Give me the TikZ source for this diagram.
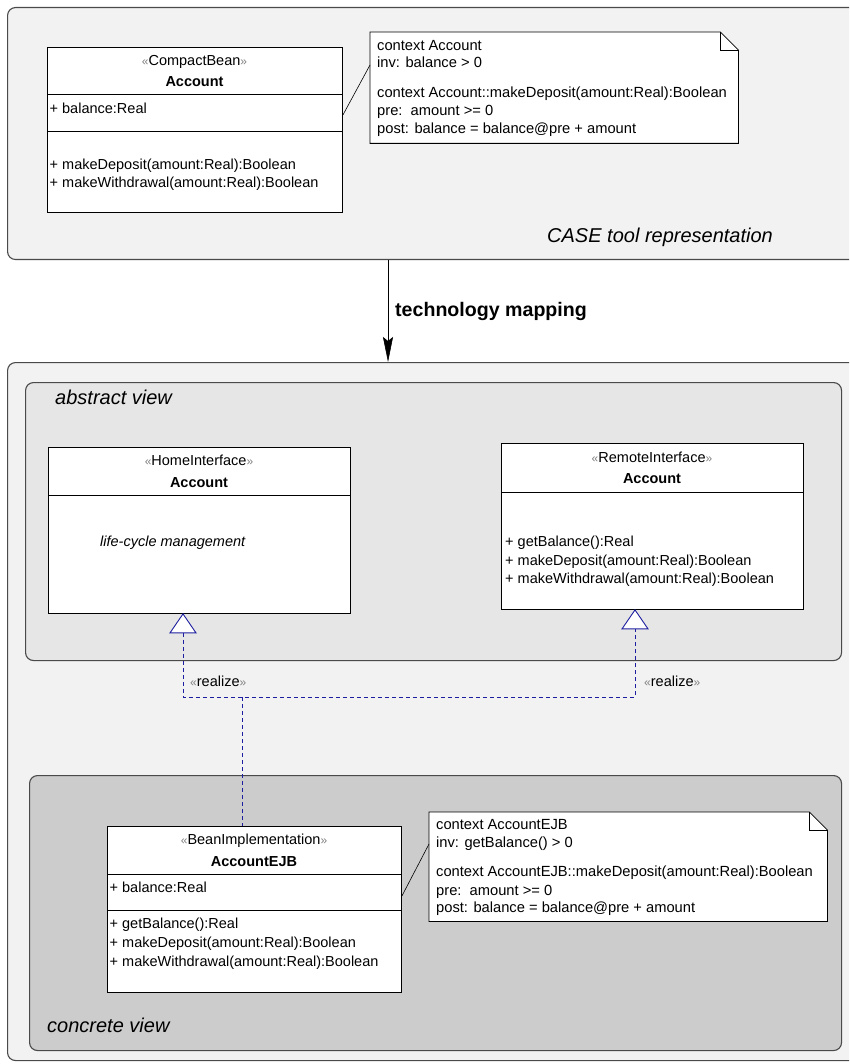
\documentclass[tikz,border=0pt]{standalone}
\usepackage{fontspec}
\setmainfont{Liberation Sans}
\usetikzlibrary{calc,arrows.meta}
\definecolor{panelA}{HTML}{F2F2F2}
\definecolor{panelB}{HTML}{E6E6E6}
\definecolor{panelC}{HTML}{CCCCCC}
\definecolor{edgegray}{HTML}{4A4A4A}
\definecolor{realblue}{RGB}{30,30,160}
\definecolor{guil}{HTML}{808080}
\newcommand{\myLg}{\textcolor{guil}{\fontsize{12}{12}\selectfont«}}
\newcommand{\myRg}{\textcolor{guil}{\fontsize{12}{12}\selectfont»}}
\tikzset{
  panel/.style={draw=edgegray, line width=1.1pt, rounded corners=8pt, inner sep=0, anchor=north west},
  clsbox/.style={draw=black, fill=white, line width=0.9pt, inner sep=0, anchor=north west},
  notebox/.style={inner sep=0, anchor=north west},
  noteline/.style={draw=black, fill=white, line width=0.8pt},
  txt/.style={inner sep=0, font=\fontsize{14.5}{17}\selectfont, text height=10.5pt, text depth=3pt},
  ntxt/.style={inner sep=0, anchor=west, font=\fontsize{14.7}{17}\selectfont, text height=10.5pt, text depth=3pt},
  ltxt/.style={txt, anchor=west},
  ctxt/.style={txt, anchor=center},
  bold/.style={font=\fontsize{14.5}{17}\selectfont\bfseries},
  title/.style={inner sep=0, anchor=west, font=\fontsize{20}{24}\selectfont\itshape, text height=14.5pt, text depth=4pt},
  realizeline/.style={draw=realblue, line width=0.8pt, dash pattern=on 4pt off 3pt},
  realtri/.style={draw=realblue, fill=white, line width=0.9pt},
  anchorline/.style={draw=black, line width=0.6pt},
}
\begin{document}
\begin{tikzpicture}[x=1pt,y=-1pt]
\useasboundingbox (0,0) rectangle (849,1064);
\clip (0,0) rectangle (849,1064);
\fill[white] (0,0) rectangle (849,1064);

% ---------- top panel ----------
\node[panel, fill=panelA, minimum width=870pt, minimum height=252pt] (p1) at (7,7) {};
\node[clsbox, minimum width=295pt, minimum height=165pt] (cb) at (47,47) {};
\draw[line width=0.9pt] ($(cb.north west)+(0,47)$) -- ($(cb.north east)+(0,47)$);
\draw[line width=0.9pt] ($(cb.north west)+(0,84)$) -- ($(cb.north east)+(0,84)$);
\node[ctxt] (cbst) at (194.5,62) {\myLg CompactBean\myRg};
\node[ctxt, bold] (cbnm) at (194.5,83) {Account};
\node[ltxt] (cba1) at (49.5,110) {+ balance:Real};
\node[ltxt] (cbo1) at (49.5,166) {+ makeDeposit(amount:Real):Boolean};
\node[ltxt] (cbo2) at (49.5,184) {+ makeWithdrawal(amount:Real):Boolean};

\node[notebox, minimum width=368pt, minimum height=111pt] (n1) at (370,32) {};
\draw[noteline] (n1.north west) -- ($(n1.north east)+(-18,0)$) -- ($(n1.north east)+(0,18)$) -- (n1.south east) -- (n1.south west) -- cycle;
\draw[line width=0.8pt] ($(n1.north east)+(-18,0)$) |- ($(n1.north east)+(0,18)$);
\node[ntxt] (n1a) at (377,47) {context Account};
\node[ntxt] (n1b) at (377,64) {inv: balance > 0};
\node[ntxt] (n1c) at (377,94) {context Account::makeDeposit(amount:Real):Boolean};
\node[ntxt] (n1d) at (377,112) {pre:\ \ amount >= 0};
\node[ntxt] (n1e) at (377,130) {post: balance = balance@pre + amount};
\draw[anchorline] ($(cb.north east)+(0,68)$) -- ($(n1.north west)+(0,33)$);

\node[title] (case) at (547,237) {CASE tool representation};

% ---------- second panel ----------
\node[panel, fill=panelA, minimum width=870pt, minimum height=698pt] (p2) at (7,362) {};

\draw[line width=0.6pt, -{Stealth[length=25pt, width=10pt, inset=4pt]}] ($(p1.south west)+(381,0)$) -- ($(p2.north west)+(381,0)$);
\node[inner sep=0, anchor=west, font=\fontsize{19.6}{22}\selectfont\bfseries] (tm) at (395,311) {technology mapping};

% abstract view
\node[panel, fill=panelB, minimum width=816pt, minimum height=278pt] (pa) at (25,382) {};
\node[title] (absv) at (55,399) {abstract view};

\node[clsbox, minimum width=302pt, minimum height=166pt] (hi) at (48,447) {};
\draw[line width=0.9pt] ($(hi.north west)+(0,48)$) -- ($(hi.north east)+(0,48)$);
\node[ctxt] (hist) at (199,462) {\myLg HomeInterface\myRg};
\node[ctxt, bold] (hinm) at (199,484) {Account};
\node[ltxt, font=\fontsize{14.5}{17}\selectfont\itshape] (hilc) at (100,543) {life-cycle management};

\node[clsbox, minimum width=302pt, minimum height=166pt] (ri) at (501,443) {};
\draw[line width=0.9pt] ($(ri.north west)+(0,49)$) -- ($(ri.north east)+(0,49)$);
\node[ctxt] (rist) at (652,459) {\myLg RemoteInterface\myRg};
\node[ctxt, bold] (rinm) at (652,480) {Account};
\node[ltxt] (rio1) at (505,543) {+ getBalance():Real};
\node[ltxt] (rio2) at (505,562) {+ makeDeposit(amount:Real):Boolean};
\node[ltxt] (rio3) at (505,580) {+ makeWithdrawal(amount:Real):Boolean};

% concrete view
\node[panel, fill=panelC, minimum width=812pt, minimum height=275pt] (pc) at (29,775) {};
\node[title] (conv) at (47,1027) {concrete view};

\node[clsbox, minimum width=294pt, minimum height=166pt] (ejb) at (107,826) {};
\draw[line width=0.9pt] ($(ejb.north west)+(0,48)$) -- ($(ejb.north east)+(0,48)$);
\draw[line width=0.9pt] ($(ejb.north west)+(0,84)$) -- ($(ejb.north east)+(0,84)$);
\node[ctxt] (ejbst) at (254,841) {\myLg BeanImplementation\myRg};
\node[ctxt, bold] (ejbnm) at (254,863) {AccountEJB};
\node[ltxt] (ejba1) at (109.5,889) {+ balance:Real};
\node[ltxt] (ejbo1) at (109.5,925) {+ getBalance():Real};
\node[ltxt] (ejbo2) at (109.5,944) {+ makeDeposit(amount:Real):Boolean};
\node[ltxt] (ejbo3) at (109.5,963) {+ makeWithdrawal(amount:Real):Boolean};

\node[notebox, minimum width=398pt, minimum height=109pt] (n2) at (429,812) {};
\draw[noteline] (n2.north west) -- ($(n2.north east)+(-18,0)$) -- ($(n2.north east)+(0,18)$) -- (n2.south east) -- (n2.south west) -- cycle;
\draw[line width=0.8pt] ($(n2.north east)+(-18,0)$) |- ($(n2.north east)+(0,18)$);
\node[ntxt] (n2a) at (436,826) {context AccountEJB};
\node[ntxt] (n2b) at (436,844) {inv: getBalance() > 0};
\node[ntxt] (n2c) at (436,873) {context AccountEJB::makeDeposit(amount:Real):Boolean};
\node[ntxt] (n2d) at (436,892) {pre:\ \ amount >= 0};
\node[ntxt] (n2e) at (436,909) {post: balance = balance@pre + amount};
\draw[anchorline] ($(ejb.north east)+(0,70)$) -- ($(n2.north west)+(0,32)$);

% ---------- realizations ----------
\coordinate (ta) at ($(hi.south west)+(135,19)$);
\coordinate (tb) at ($(ri.south west)+(134,19)$);
\coordinate (jn) at (242,697);
\draw[realizeline] (ta) |- (jn) -| (tb);
\draw[realizeline] (jn) -- (ejb.north -| jn);
\draw[realtri] ($(hi.south west)+(135,0)$) -- ($(ta)+(-13,0)$) -- ($(ta)+(13,0)$) -- cycle;
\draw[realtri] ($(ri.south west)+(134,0)$) -- ($(tb)+(-13,0)$) -- ($(tb)+(13,0)$) -- cycle;
\node[ltxt] (rl1) at (190,683) {\myLg realize\myRg};
\node[ltxt] (rl2) at (644,683) {\myLg realize\myRg};
\end{tikzpicture}
\end{document}
